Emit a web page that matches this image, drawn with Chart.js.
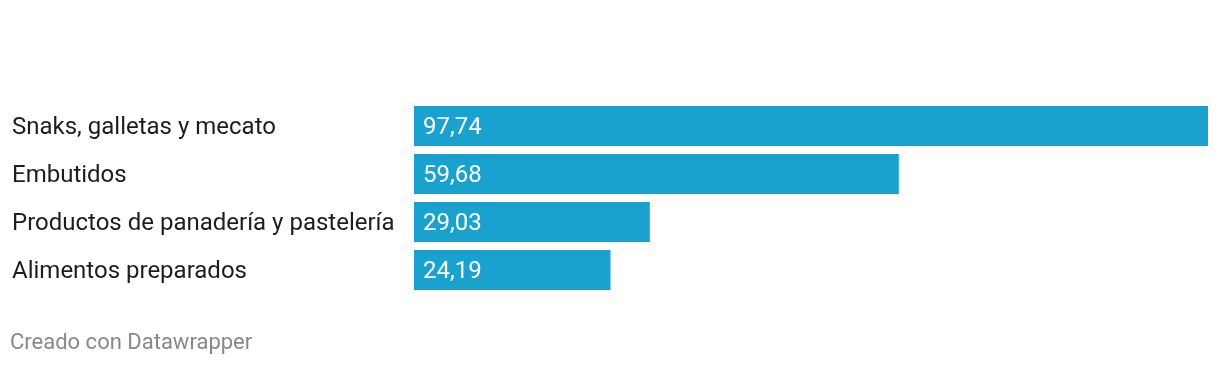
<!DOCTYPE html>
<html>
<head>
<meta charset="utf-8">
<script src="https://cdn.jsdelivr.net/npm/chart.js@4"></script>
<style>
    html, body { margin: 0; padding: 0; background: #fff; }
    #wrap { position: relative; width: 1220px; height: 366px; }
    #footer {
        position: absolute; left: 10px; top: 329px;
        font-family: Roboto, sans-serif; font-size: 22px; color: #888;
    }
</style>
</head>
<body>
<div id="wrap">
    <canvas id="bars" width="1220" height="366"></canvas>
    <div id="footer">Creado con Datawrapper</div>
</div>
<script>
    const categories = [
        'Snaks, galletas y mecato',
        'Embutidos',
        'Productos de panadería y pastelería',
        'Alimentos preparados'
    ];
    const values = [97.74, 59.68, 29.03, 24.19];

    // valores dentro de la barra, con coma decimal
    const valueLabels = {
        id: 'valueLabels',
        afterDatasetsDraw(chart) {
            const ctx = chart.ctx;
            const meta = chart.getDatasetMeta(0);
            ctx.save();
            ctx.font = '24px Roboto';
            ctx.fillStyle = '#fff';
            ctx.textAlign = 'left';
            ctx.textBaseline = 'alphabetic';
            meta.data.forEach((bar, i) => {
                const txt = values[i].toFixed(2).replace('.', ',');
                ctx.fillText(txt, bar.base + 9, bar.y + 7.5);
            });
            ctx.restore();
        }
    };

    const ctx = document.getElementById('bars').getContext('2d');
    new Chart(ctx, {
        type: 'bar',
        data: {
            labels: categories,
            datasets: [{
                data: values,
                backgroundColor: '#1aa2ce',
                borderWidth: 0,
                categoryPercentage: 1,
                barPercentage: 40 / 48
            }]
        },
        options: {
            indexAxis: 'y',
            responsive: false,
            animation: false,
            layout: {
                padding: { left: 12, right: 12, top: 102, bottom: 72 }
            },
            plugins: {
                legend: { display: false },
                tooltip: { enabled: false }
            },
            scales: {
                x: {
                    display: false,
                    min: 0,
                    max: 97.74
                },
                y: {
                    grid: { display: false, drawTicks: false },
                    border: { display: false },
                    ticks: {
                        crossAlign: 'far',
                        color: '#1d1d1d',
                        font: { family: 'Roboto', size: 24 },
                        padding: 0,
                        labelOffset: 2
                    },
                    afterFit(scale) {
                        scale.width = 402; // las barras empiezan en x=414
                    }
                }
            }
        },
        plugins: [valueLabels]
    });
</script>
</body>
</html>
